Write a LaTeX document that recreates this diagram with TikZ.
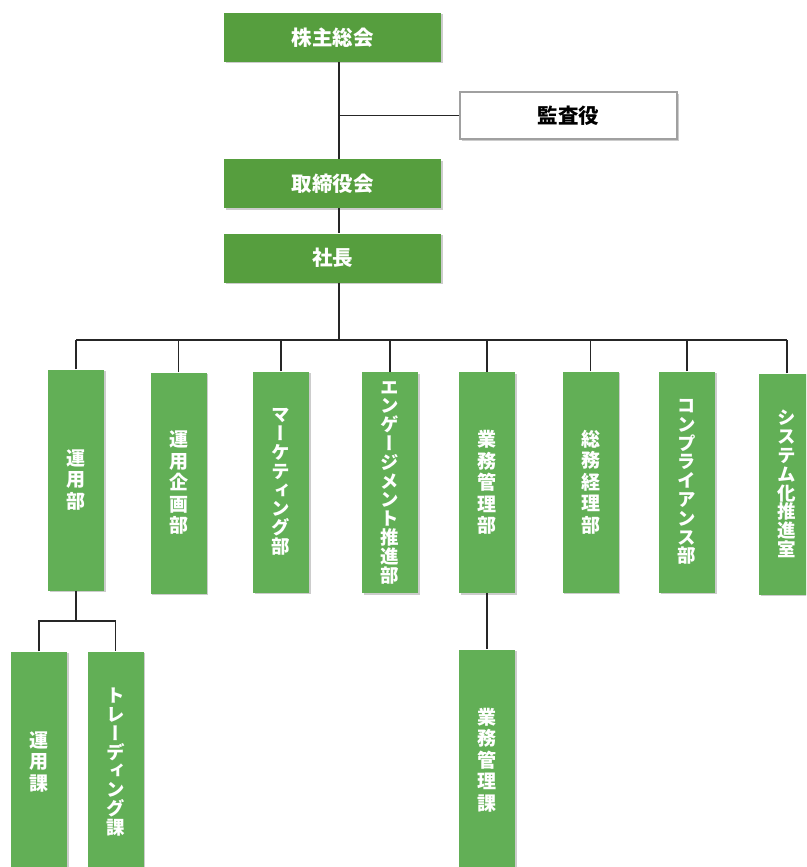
\documentclass[tikz,border=0pt]{standalone}
\usepackage{fontspec}
\usepackage{tikz}
\usetikzlibrary{shadows}
\newfontfamily\jpfont{Noto Sans CJK JP}
\newfontfamily\jpvert{Noto Sans CJK JP}[RawFeature=+vert]
\definecolor{topgreen}{RGB}{86,158,62}
\definecolor{deptgreen}{RGB}{98,175,86}
\definecolor{auditgray}{RGB}{160,160,160}

\begin{document}
\setlength{\lineskiplimit}{-30pt}
\begin{tikzpicture}[x=1pt, y=-1pt,
  boxshadow/.style={drop shadow={shadow xshift=1.5pt, shadow yshift=-1.5pt, fill=black!40, opacity=0.5}},
  topbox/.style={rectangle, fill=topgreen, minimum width=217pt, minimum height=49pt, inner sep=0pt, text=white, font=\jpfont\bfseries\fontsize{20.5}{22}\selectfont, boxshadow},
  auditbox/.style={rectangle, fill=white, draw=auditgray, line width=1.2pt, minimum width=217pt, minimum height=47pt, inner sep=0pt, text=black, font=\jpfont\bfseries\fontsize{20.5}{22}\selectfont, boxshadow},
  deptbox/.style={rectangle, fill=deptgreen, minimum width=56pt, minimum height=221pt, inner sep=0pt, text=white, align=center, font=\jpvert\bfseries\fontsize{19}{21.5}\selectfont, boxshadow},
  kana/.style={font=\jpvert\bfseries\fontsize{18.5}{18.8}\selectfont},
  conn/.style={draw=black!85, line width=1.2pt}]
\useasboundingbox (0,0) rectangle (806,867);
\clip (0,0) rectangle (806,867);

\node[topbox] (soukai) at (332.5,37.5) {株主総会};
\node[auditbox] (kansa) at (568.5,115.5) {監査役};
\node[topbox] (torishimari) at (332.5,183.5) {取締役会};
\node[topbox] (shacho) at (332.5,258) {社長};

\coordinate (trunk) at (339,340);

% departments
\node[deptbox] (unyo) at (76,480) {運\\用\\部};
\node[deptbox] (kikaku) at (178.5,483) {運\\用\\企\\画\\部};
\node[deptbox, kana] (marketing) at (281,482) {マ\\ー\\ケ\\テ\\ィ\\ン\\グ\\部};
\node[deptbox, kana] (engage) at (390,482.5) {エ\\ン\\ゲ\\ー\\ジ\\メ\\ン\\ト\\推\\進\\部};
\node[deptbox] (gyomu) at (487,482.5) {業\\務\\管\\理\\部};
\node[deptbox] (somu) at (590.5,482) {総\\務\\経\\理\\部};
\node[deptbox, kana] (compliance) at (687,482) {コ\\ン\\プ\\ラ\\イ\\ア\\ン\\ス\\部};
\node[deptbox, kana] (system) at (787,484) {シ\\ス\\テ\\ム\\化\\推\\進\\室};

% sections
\node[deptbox] (unyoka) at (39,762) {運\\用\\課};
\node[deptbox, kana] (trading) at (115.5,762) {ト\\レ\\ー\\デ\\ィ\\ン\\グ\\課};
\node[deptbox] (gyomuka) at (487,760) {業\\務\\管\\理\\課};

\draw[conn] (soukai.south -| trunk) -- (torishimari.north -| trunk);
\draw[conn] (kansa.west) -- (kansa.west -| trunk);
\draw[conn] (torishimari.south -| trunk) -- (shacho.north -| trunk);
\draw[conn] (shacho.south -| trunk) -- (trunk);
\draw[conn] (unyo.north |- trunk) -- (system.north |- trunk);
\foreach \d in {unyo,kikaku,marketing,engage,gyomu,somu,compliance,system}
  \draw[conn] (\d.north) -- (\d.north |- trunk);

\coordinate (unyojoint) at (76,621);
\draw[conn] (unyo.south) -- (unyojoint);
\draw[conn] (unyoka.north) |- (unyojoint) -| (trading.north);
\draw[conn] (gyomu.south) -- (gyomuka.north);
\end{tikzpicture}
\end{document}
